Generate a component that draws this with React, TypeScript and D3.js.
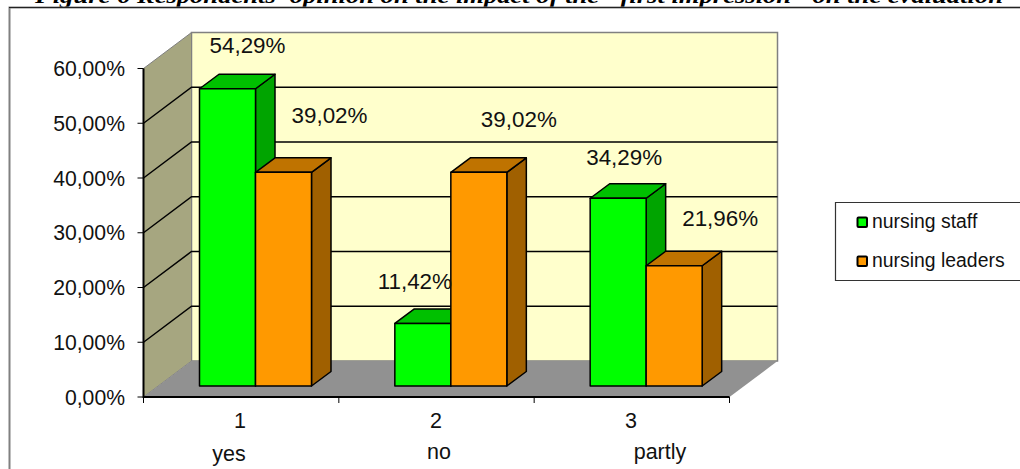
import React from "react";
import * as d3 from "d3";

const categories = ["1", "2", "3"];
const answers = ["yes", "no", "partly"];
const nursingStaff = [54.29, 11.42, 34.29];
const nursingLeaders = [39.02, 39.02, 21.96];
const yTicks = [0, 10, 20, 30, 40, 50, 60];
const titleText = "Figure 6 Respondents' opinion on the impact of the \"first impression\" on the evaluation";

const seriesList = [
  { name: "nursing staff", values: nursingStaff, front: "#00ff00", top: "#00c000", side: "#00a400" },
  { name: "nursing leaders", values: nursingLeaders, front: "#ff9900", top: "#bf7300", side: "#a06000" },
];

const W = 1020;
const H = 469;
const FONT = "'Liberation Sans', Arial, sans-serif";

// Plot frame and oblique projection of the 3D box
const x0 = 143.5;
const x1 = 729.5;
const yBase = 397;
const yTop = 68.5;
const wallDx = 48;
const wallDy = -36;
const barDx = 19.5;
const barDy = -14.5;
const barW = 56;
const barInsetX = 56;
const barInsetY = -11;

const xScale = d3.scaleBand<string>().domain(categories).range([x0, x1]);
const yScale = d3.scaleLinear().domain([0, 60]).range([yBase, yTop]);
const percent = (v: number) => v.toFixed(2).replace(".", ",") + "%";

// Label anchors relative to the front-top centre of each bar, [series][category]
const labelShift = [
  [
    [20, -36],
    [-8, -34],
    [6, -33],
  ],
  [
    [46, -49],
    [40, -45],
    [46, -40],
  ],
];
const axisLabelCentre = [240, 436, 631];
const answerCentre = [229, 439, 660];
const answerBaseline = [461, 459, 459];

const pts = (p: [number, number][]) => p.map((q) => q.join(",")).join(" ");

export default function App() {
  const band = xScale.step();
  const edges = d3.range(categories.length + 1).map((i) => x0 + i * band);
  return (
    <svg
      width={W}
      height={H}
      viewBox={`0 0 ${W} ${H}`}
      style={{ position: "absolute", left: 0, top: 0, background: "#fff" }}
    >
      <text
        x={35}
        y={3}
        textLength={968}
        lengthAdjust="spacingAndGlyphs"
        fontFamily="'Liberation Serif', 'Times New Roman', serif"
        fontWeight="bold"
        fontStyle="italic"
        fontSize={22}
        fill="#000"
      >
        {titleText}
      </text>

      {/* chart area frame, open on the right and bottom */}
      <path d={`M9.5 469V7.5H1020`} fill="none" stroke="#808080" strokeWidth={2} />
      <line x1={9} x2={1020} y1={7.5} y2={7.5} stroke="#222" strokeWidth={1.2} />

      {/* back wall, side wall, floor */}
      <rect
        x={x0 + wallDx}
        y={yTop + wallDy}
        width={x1 - x0}
        height={yBase - yTop}
        fill="#ffffcc"
        stroke="#808080"
        strokeWidth={1.5}
      />
      <polygon
        points={pts([
          [x0, yBase],
          [x0, yTop],
          [x0 + wallDx, yTop + wallDy],
          [x0 + wallDx, yBase + wallDy],
        ])}
        fill="#a6a680"
        stroke="#808080"
        strokeWidth={1}
      />
      <polygon
        points={pts([
          [x0, yBase],
          [x0 + wallDx, yBase + wallDy],
          [x1 + wallDx, yBase + wallDy],
          [x1, yBase],
        ])}
        fill="#919191"
      />

      {/* gridlines wrap from the side wall onto the back wall */}
      {yTicks.slice(1, -1).map((t) => (
        <polyline
          key={t}
          points={pts([
            [x0, yScale(t)],
            [x0 + wallDx, yScale(t) + wallDy],
            [x1 + wallDx, yScale(t) + wallDy],
          ])}
          fill="none"
          stroke="#000"
          strokeWidth={1.5}
        />
      ))}

      {/* bars, drawn left to right so later boxes overlap earlier ones */}
      {categories.map((c, ci) =>
        seriesList.map((s, si) => {
          const left = (xScale(c) as number) + barInsetX + si * barW;
          const right = left + barW;
          const top = yScale(s.values[ci]) + barInsetY;
          const base = yBase + barInsetY;
          return (
            <g key={c + s.name} stroke="#000" strokeWidth={1.5} strokeLinejoin="round">
              <polygon
                points={pts([
                  [right, base],
                  [right, top],
                  [right + barDx, top + barDy],
                  [right + barDx, base + barDy],
                ])}
                fill={s.side}
              />
              <polygon
                points={pts([
                  [left, top],
                  [left + barDx, top + barDy],
                  [right + barDx, top + barDy],
                  [right, top],
                ])}
                fill={s.top}
              />
              <rect x={left} y={top} width={barW} height={base - top} fill={s.front} />
            </g>
          );
        })
      )}

      {/* axes */}
      <line x1={x0} x2={x0} y1={yTop} y2={yBase + 1} stroke="#000" strokeWidth={2} />
      <line x1={x0} x2={x1} y1={yBase} y2={yBase} stroke="#000" strokeWidth={2} />
      {yTicks.map((t) => (
        <g key={t}>
          <line x1={x0 - 6} x2={x0} y1={yScale(t)} y2={yScale(t)} stroke="#000" strokeWidth={1} />
          <text
            x={125}
            y={yScale(t) + 7.5}
            textAnchor="end"
            fontFamily={FONT}
            fontSize={21.2}
            fill="#111"
          >
            {percent(t)}
          </text>
        </g>
      ))}
      {edges.map((e) => (
        <line key={e} x1={e} x2={e} y1={yBase} y2={yBase + 6} stroke="#000" strokeWidth={1} />
      ))}
      {categories.map((c, i) => (
        <g key={c} fontFamily={FONT} fontSize={21.5} fill="#111" textAnchor="middle">
          <text x={axisLabelCentre[i]} y={428}>
            {c}
          </text>
          <text x={answerCentre[i]} y={answerBaseline[i]}>
            {answers[i]}
          </text>
        </g>
      ))}

      {/* value labels */}
      {seriesList.map((s, si) =>
        categories.map((c, ci) => (
          <text
            key={s.name + c}
            x={(xScale(c) as number) + barInsetX + si * barW + barW / 2 + labelShift[si][ci][0]}
            y={yScale(s.values[ci]) + barInsetY + labelShift[si][ci][1]}
            textAnchor="middle"
            fontFamily={FONT}
            fontSize={22.4}
            fill="#111"
          >
            {percent(s.values[ci])}
          </text>
        ))
      )}

      {/* legend */}
      <path d="M1020 202.5H835.5V280.5H1020" fill="#fff" stroke="#333" strokeWidth={1.2} />
      {seriesList.map((s, i) => (
        <g key={s.name}>
          <rect
            x={857.5}
            y={217.5 + i * 39}
            width={9.5}
            height={9.5}
            rx={1}
            fill={s.front}
            stroke="#000"
            strokeWidth={2}
          />
          <text x={872} y={228 + i * 39} fontFamily={FONT} fontSize={19.4} fill="#111">
            {s.name}
          </text>
        </g>
      ))}
    </svg>
  );
}
